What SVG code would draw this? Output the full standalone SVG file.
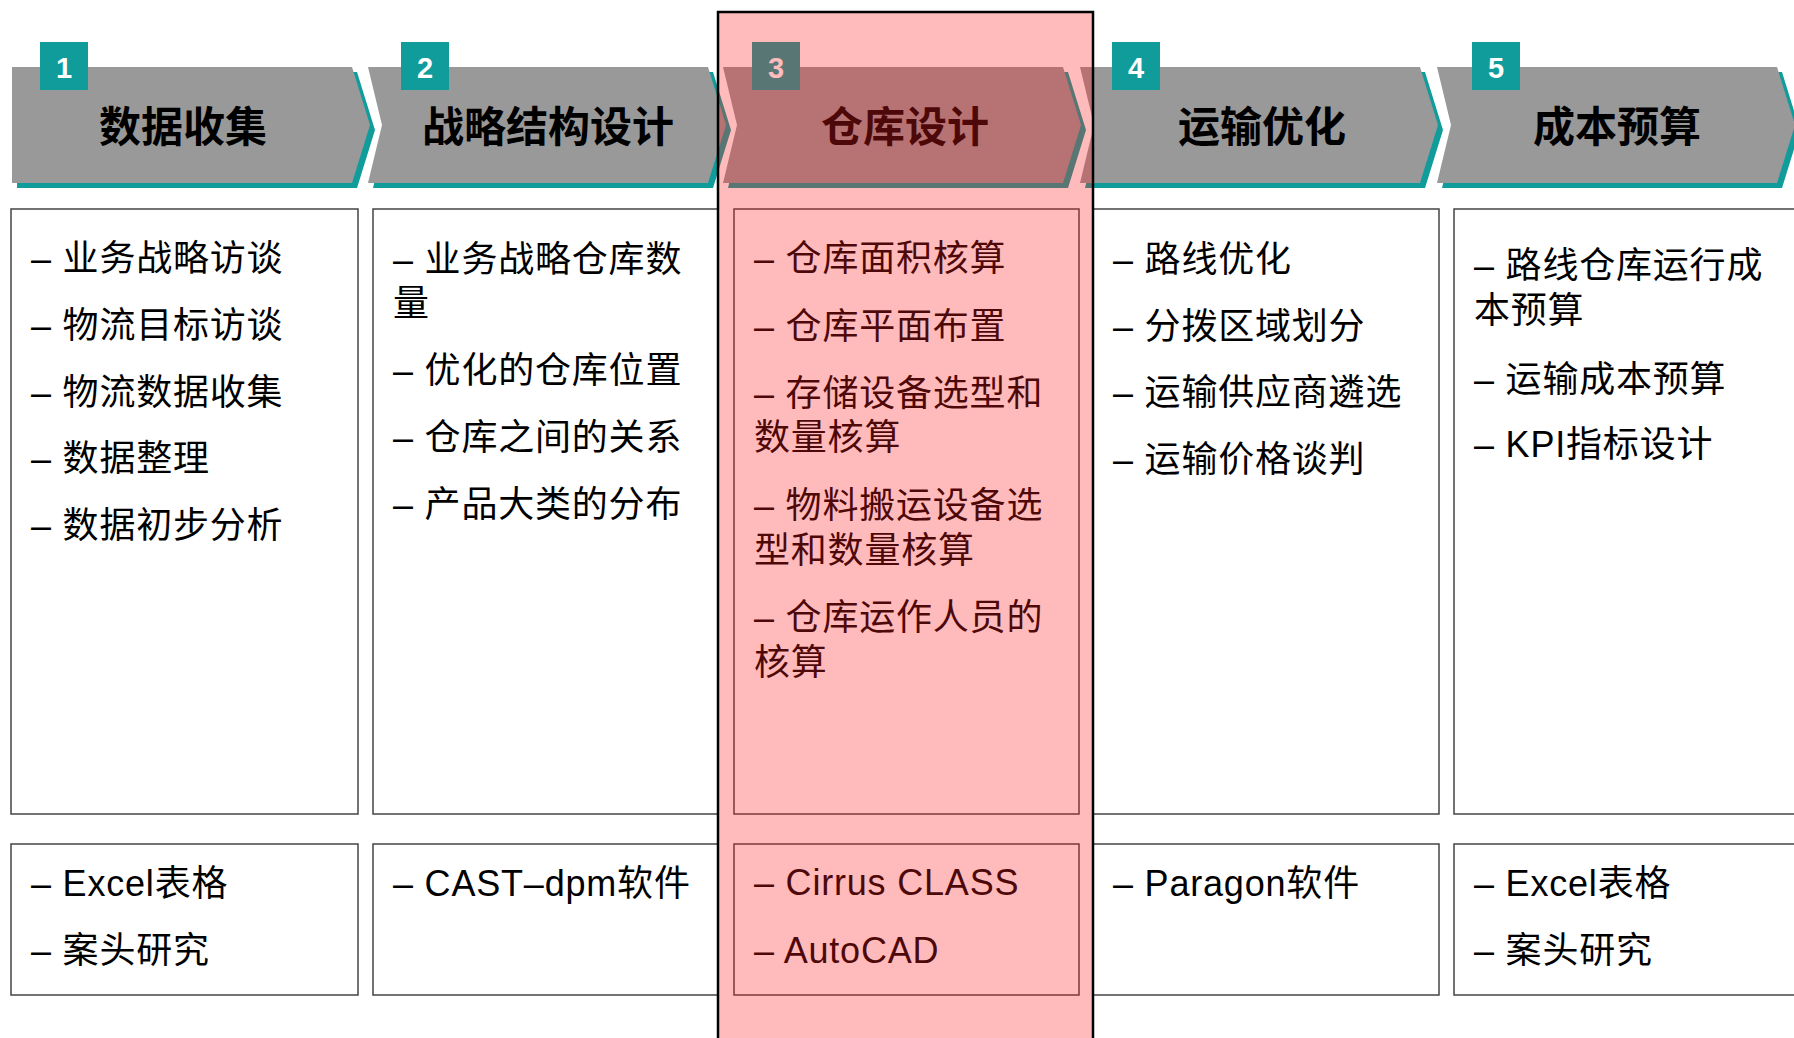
<svg xmlns="http://www.w3.org/2000/svg" xmlns:xlink="http://www.w3.org/1999/xlink" width="1794" height="1038" viewBox="0 0 1794 1038">
<style>
.shadow{fill:#109c9a}
.chev{fill:#999999}
.badge{fill:#109c9a}
.num{font-family:"Liberation Sans",Arial,sans-serif;font-weight:700;font-size:29px;fill:#ffffff;text-anchor:middle}
.title{font-family:"Noto Sans CJK SC",sans-serif;font-weight:700;font-size:42px;fill:#000;text-anchor:middle}
.box{fill:#ffffff;stroke:#444444;stroke-width:1.5}
.txt{font-family:"Liberation Sans","Noto Sans CJK SC",sans-serif;font-size:36px;letter-spacing:0.8px;fill:#000}
</style>
<defs>
<path id="chev" d="M0,0 H340 L358,58 L340,116 H0 L14,58 Z"/>
<path id="chev1" d="M0,0 H340 L358,58 L340,116 H0 Z"/>
</defs>
<rect width="1794" height="1038" fill="#ffffff"/>

<g id="step1">
<use xlink:href="#chev1" class="shadow" transform="translate(17,72)"/>
<use xlink:href="#chev1" class="chev" transform="translate(12,67)"/>
<rect class="badge" x="40" y="42" width="48" height="48"/>
<text class="num" x="64" y="78">1</text>
<text class="title" x="183" y="142">数据收集</text>
<rect class="box" x="11" y="209" width="347" height="605"/>
<text class="txt" x="31" y="271">– 业务战略访谈</text>
<text class="txt" x="31" y="338">– 物流目标访谈</text>
<text class="txt" x="31" y="405">– 物流数据收集</text>
<text class="txt" x="31" y="471">– 数据整理</text>
<text class="txt" x="31" y="538">– 数据初步分析</text>
<rect class="box" x="11" y="844" width="347" height="151"/>
<text class="txt" x="31" y="896">– Excel表格</text>
<text class="txt" x="31" y="963">– 案头研究</text>
</g>

<g id="step2">
<use xlink:href="#chev" class="shadow" transform="translate(373,72)"/>
<use xlink:href="#chev" class="chev" transform="translate(368,67)"/>
<rect class="badge" x="401" y="42" width="48" height="48"/>
<text class="num" x="425" y="78">2</text>
<text class="title" x="548" y="142">战略结构设计</text>
<rect class="box" x="373" y="209" width="345" height="605"/>
<text class="txt" x="393" y="272">– 业务战略仓库数</text>
<text class="txt" x="393" y="316">量</text>
<text class="txt" x="393" y="383">– 优化的仓库位置</text>
<text class="txt" x="393" y="450">– 仓库之间的关系</text>
<text class="txt" x="393" y="517">– 产品大类的分布</text>
<rect class="box" x="373" y="844" width="345" height="151"/>
<text class="txt" x="393" y="896">– CAST–dpm软件</text>
</g>

<g id="step3">
<use xlink:href="#chev" class="shadow" transform="translate(728,72)"/>
<use xlink:href="#chev" class="chev" transform="translate(723,67)"/>
<rect class="badge" x="752" y="42" width="48" height="48"/>
<text class="num" x="776" y="78">3</text>
<text class="title" x="905" y="142">仓库设计</text>
<rect class="box" x="734" y="209" width="345" height="605"/>
<text class="txt" x="754" y="271">– 仓库面积核算</text>
<text class="txt" x="754" y="339">– 仓库平面布置</text>
<text class="txt" x="754" y="406">– 存储设备选型和</text>
<text class="txt" x="754" y="450">数量核算</text>
<text class="txt" x="754" y="518">– 物料搬运设备选</text>
<text class="txt" x="754" y="563">型和数量核算</text>
<text class="txt" x="754" y="630">– 仓库运作人员的</text>
<text class="txt" x="754" y="675">核算</text>
<rect class="box" x="734" y="844" width="345" height="151"/>
<text class="txt" x="754" y="895">– Cirrus CLASS</text>
<text class="txt" x="754" y="963">– AutoCAD</text>
</g>

<g id="step4">
<use xlink:href="#chev" class="shadow" transform="translate(1085,72)"/>
<use xlink:href="#chev" class="chev" transform="translate(1080,67)"/>
<rect class="badge" x="1112" y="42" width="48" height="48"/>
<text class="num" x="1136" y="78">4</text>
<text class="title" x="1262" y="142">运输优化</text>
<rect class="box" x="1093" y="209" width="346" height="605"/>
<text class="txt" x="1113" y="272">– 路线优化</text>
<text class="txt" x="1113" y="339">– 分拨区域划分</text>
<text class="txt" x="1113" y="405">– 运输供应商遴选</text>
<text class="txt" x="1113" y="472">– 运输价格谈判</text>
<rect class="box" x="1093" y="844" width="346" height="151"/>
<text class="txt" x="1113" y="896">– Paragon软件</text>
</g>

<g id="step5">
<use xlink:href="#chev" class="shadow" transform="translate(1442,72)"/>
<use xlink:href="#chev" class="chev" transform="translate(1437,67)"/>
<rect class="badge" x="1472" y="42" width="48" height="48"/>
<text class="num" x="1496" y="78">5</text>
<text class="title" x="1617" y="142">成本预算</text>
<rect class="box" x="1454" y="209" width="346" height="605"/>
<text class="txt" x="1474" y="278">– 路线仓库运行成</text>
<text class="txt" x="1474" y="323">本预算</text>
<text class="txt" x="1474" y="392">– 运输成本预算</text>
<text class="txt" x="1474" y="457">– KPI指标设计</text>
<rect class="box" x="1454" y="844" width="346" height="151"/>
<text class="txt" x="1474" y="896">– Excel表格</text>
<text class="txt" x="1474" y="963">– 案头研究</text>
</g>

<g id="highlight">
<rect x="718" y="12" width="375" height="1040" fill="#ff1e1e" fill-opacity="0.3" stroke="#000000" stroke-width="2.5"/>
</g>
</svg>
